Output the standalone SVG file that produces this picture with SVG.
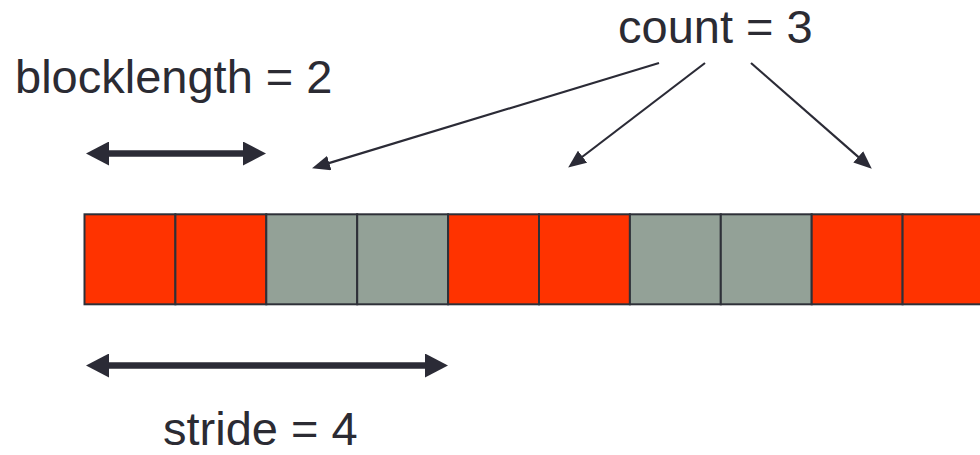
<svg xmlns="http://www.w3.org/2000/svg" width="980" height="455" viewBox="0 0 980 455">
  <style>
    .lbl { font-family: "Liberation Sans", Arial, sans-serif; font-size: 47px; fill: #2b2b33; }
    .red { fill: #ff3300; stroke: #2e3038; stroke-width: 2; }
    .gray { fill: #93a197; stroke: #2e3038; stroke-width: 2; }
    .thick { stroke: #2b2b36; stroke-width: 6.5; fill: none; }
    .thin { stroke: #2b2b36; stroke-width: 2.2; fill: none; }
  </style>
  <defs>
    <marker id="bigHead" markerUnits="userSpaceOnUse" markerWidth="23" markerHeight="24" refX="3" refY="12" orient="auto-start-reverse">
      <path d="M0,0 L23,12 L0,24 z" fill="#2b2b36"/>
    </marker>
    <marker id="smallHead" markerUnits="userSpaceOnUse" markerWidth="18" markerHeight="15" refX="3" refY="7.5" orient="auto">
      <path d="M0,0 L18,7.5 L0,15 z" fill="#2b2b36"/>
    </marker>
  </defs>
  <rect width="980" height="455" fill="#ffffff"/>

  <g id="cells">
    <rect id="cell1" class="red" x="84.5" y="214.3" width="90.9" height="90"/>
    <rect id="cell2" class="red" x="175.4" y="214.3" width="90.9" height="90"/>
    <rect id="cell3" class="gray" x="266.3" y="214.3" width="90.9" height="90"/>
    <rect id="cell4" class="gray" x="357.2" y="214.3" width="90.9" height="90"/>
    <rect id="cell5" class="red" x="448.1" y="214.3" width="90.9" height="90"/>
    <rect id="cell6" class="red" x="539" y="214.3" width="90.9" height="90"/>
    <rect id="cell7" class="gray" x="629.9" y="214.3" width="90.9" height="90"/>
    <rect id="cell8" class="gray" x="720.8" y="214.3" width="90.9" height="90"/>
    <rect id="cell9" class="red" x="811.7" y="214.3" width="90.9" height="90"/>
    <rect id="cell10" class="red" x="902.6" y="214.3" width="90.9" height="90"/>
  </g>

  <g id="connectors">
    <line class="thick" x1="106" y1="153.5" x2="246" y2="153.5" marker-start="url(#bigHead)" marker-end="url(#bigHead)"/>
    <line class="thick" x1="106" y1="365.5" x2="428" y2="365.5" marker-start="url(#bigHead)" marker-end="url(#bigHead)"/>
    <line class="thin" x1="659" y1="63" x2="326.4" y2="163.9" marker-end="url(#smallHead)"/>
    <line class="thin" x1="705" y1="63" x2="580.1" y2="158.5" marker-end="url(#smallHead)"/>
    <line class="thin" x1="751" y1="63" x2="860.5" y2="158.8" marker-end="url(#smallHead)"/>
  </g>

  <g id="labels">
    <text id="blocklength" class="lbl" x="15" y="92.5">blocklength = 2</text>
    <text id="count" class="lbl" x="618" y="42.5">count = 3</text>
    <text id="stride" class="lbl" x="163" y="445">stride = 4</text>
  </g>
</svg>
